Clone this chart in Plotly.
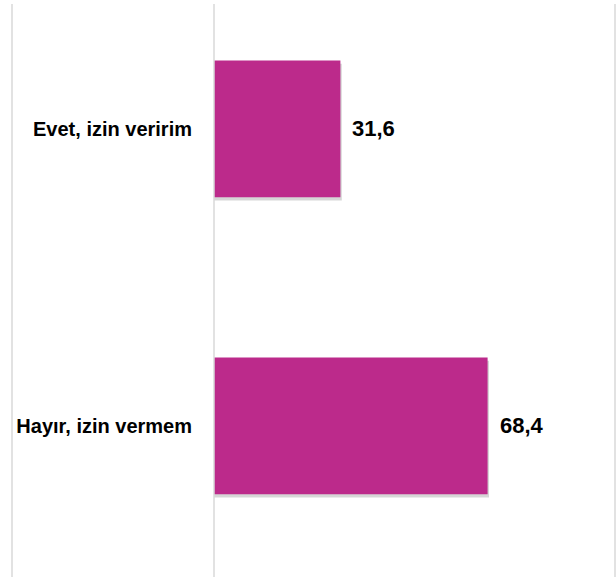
import plotly.graph_objects as go

categories = ["Evet, izin veririm", "Hayır, izin vermem"]
values = [31.6, 68.4]
value_labels = ["31,6", "68,4"]

bar_color = "#BC2A8B"
line_color = "#D9D9D9"
font_family = "'Liberation Sans', Arial, sans-serif"

fig = go.Figure()

# soft drop shadow behind the bars (slightly down and right)
fig.add_trace(go.Bar(
    y=categories, x=[v + 0.35 for v in values], orientation="h",
    width=0.46, offset=-0.219,
    marker=dict(color="rgba(0,0,0,0.16)", line=dict(width=0)),
    hoverinfo="skip", showlegend=False,
))
fig.add_trace(go.Bar(
    y=categories, x=values, orientation="h",
    width=0.46, offset=-0.23,
    marker=dict(color=bar_color, line=dict(width=0)),
    showlegend=False,
))

for cat, v, lab in zip(categories, values, value_labels):
    fig.add_annotation(
        x=v, y=cat, text=f"<b>{lab}</b>", showarrow=False,
        xanchor="left", yanchor="middle", xshift=10,
        font=dict(family=font_family, size=22, color="#000000"),
    )

# frame lines (left, axis, right) starting slightly below the top
top = 1 - 4 / 577
for xp in [(12 - 214) / 400, 0, (615 - 214) / 400]:
    fig.add_shape(type="line", xref="paper", yref="paper",
                  x0=xp, x1=xp, y0=0, y1=top,
                  line=dict(color=line_color, width=1.5))

fig.update_layout(
    width=616, height=577,
    margin=dict(l=214, r=2, t=0, b=0),
    paper_bgcolor="white", plot_bgcolor="white",
    barmode="overlay",
    xaxis=dict(range=[0, 100], visible=False, fixedrange=True),
    yaxis=dict(
        type="category", range=[1.509, -0.434],
        showgrid=False, zeroline=False, showline=False,
        ticks="", ticklabelstandoff=21,
        tickfont=dict(family=font_family, size=20, color="#000000", weight="bold"),
    ),
    font=dict(family=font_family),
)

fig.write_html("out.html", config={"displayModeBar": False},
               post_script="document.body.style.margin='0';")
